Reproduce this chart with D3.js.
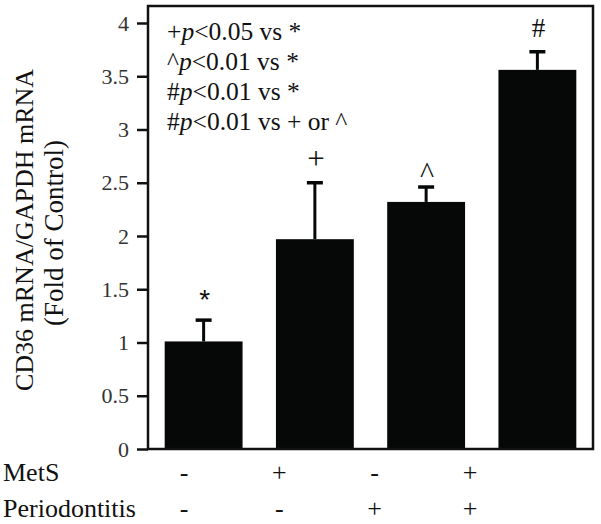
<!DOCTYPE html>
<html>
<head>
<meta charset="utf-8">
<script src="https://cdn.jsdelivr.net/npm/d3@7"></script>
</head>
<body style="margin:0;background:#fff">
<svg id="chart" width="601" height="524"></svg>
<script>
// values
const groups = ["g1", "g2", "g3", "g4"]
const means = [1.01, 1.97, 2.32, 3.56]
const errors = [0.20, 0.53, 0.14, 0.17]
const marks = ["*", "+", "^", "#"]
const metS = ["-", "+", "-", "+"]
const perio = ["-", "-", "+", "+"]
const yTicks = [0, 0.5, 1, 1.5, 2, 2.5, 3, 3.5, 4]
const legendLines = [
  ["+", "<0.05 vs *"],
  ["^", "<0.01 vs *"],
  ["#", "<0.01 vs *"],
  ["#", "<0.01 vs + or ^"]
]

const SERIF = "Liberation Serif"
const SANS = "Liberation Sans"

const svg = d3.select("#chart")
const plotL = 148, plotR = 593, plotT = 6, plotB = 449

const x = d3.scaleBand().domain(groups).range([plotL, plotR])
  .paddingInner(0.3).paddingOuter(0.15)
const y = d3.scaleLinear().domain([0, 4]).range([plotB, 23])
// the +/- rows sit a bit left of the bars in the original
const xRow = d3.scalePoint().domain(groups).range([184, 470])

function label(sel, size, family) {
  return sel.attr("font-family", family || SERIF)
    .style("font-family", family || SERIF)
    .attr("font-size", size)
    .attr("fill", "#111")
}

// bars
svg.selectAll(".bar")
  .data(groups)
  .join("rect")
  .attr("class", "bar")
  .attr("x", d => x(d))
  .attr("width", x.bandwidth())
  .attr("y", (d, i) => y(means[i]))
  .attr("height", (d, i) => plotB - y(means[i]))
  .attr("fill", "#060808")

// error bars (upper only)
const capW = 8
const eb = svg.selectAll(".err").data(groups).join("g").attr("class", "err")
eb.append("line")
  .attr("x1", d => x(d) + x.bandwidth() / 2)
  .attr("x2", d => x(d) + x.bandwidth() / 2)
  .attr("y1", (d, i) => y(means[i]))
  .attr("y2", (d, i) => y(means[i] + errors[i]))
  .attr("stroke", "#060808").attr("stroke-width", 3)
eb.append("line")
  .attr("x1", d => x(d) + x.bandwidth() / 2 - capW)
  .attr("x2", d => x(d) + x.bandwidth() / 2 + capW)
  .attr("y1", (d, i) => y(means[i] + errors[i]))
  .attr("y2", (d, i) => y(means[i] + errors[i]))
  .attr("stroke", "#060808").attr("stroke-width", 3.5)

// significance marks above bars
const mk = svg.selectAll(".mark")
  .data(groups)
  .join("text")
  .attr("class", "mark")
  .attr("x", d => x(d) + x.bandwidth() / 2 + 1)
  .attr("y", (d, i) => y(means[i] + errors[i]) - 24)
  .attr("text-anchor", "middle")
  .attr("dominant-baseline", "central")
  .attr("dy", (d, i) => i === 2 ? "0.3em" : (i === 0 ? "0.12em" : 0))
  .text((d, i) => marks[i])
mk.each(function (d, i) {
  label(d3.select(this), [28, 31, 30, 27][i], i === 0 ? SANS : SERIF)
})

// frame
svg.append("rect")
  .attr("x", plotL).attr("y", plotT)
  .attr("width", plotR - plotL).attr("height", plotB - plotT)
  .attr("fill", "none").attr("stroke", "#111").attr("stroke-width", 2.5)

// y axis
const yAxis = svg.append("g")
  .attr("transform", `translate(${plotL},0)`)
  .call(d3.axisLeft(y).tickValues(yTicks).tickSize(11).tickPadding(8).tickFormat(d3.format("")))
yAxis.attr("font-family", SERIF)
yAxis.select(".domain").remove()
yAxis.selectAll(".tick line").attr("stroke", "#111").attr("stroke-width", 2.5)
label(yAxis.selectAll(".tick text"), 22).attr("fill", "#333")

// y title
const yt = svg.append("g").attr("transform", "translate(0,230) rotate(-90)")
label(yt.append("text"), 26).attr("x", 0).attr("y", 33).attr("text-anchor", "middle")
  .text("CD36 mRNA/GAPDH mRNA")
label(yt.append("text"), 27).attr("x", -3).attr("y", 63).attr("text-anchor", "middle")
  .text("(Fold of Control)")

// legend
const lg = label(svg.selectAll(".legend")
  .data(legendLines)
  .join("text")
  .attr("class", "legend")
  .attr("x", 167)
  .attr("y", (d, i) => 40 + i * 30), 25.5)
lg.append("tspan").text(d => d[0])
lg.append("tspan").attr("font-style", "italic").text("p")
lg.append("tspan").text(d => d[1])

// row labels
const rows = [["MetS", metS, 481], ["Periodontitis", perio, 517]]
rows.forEach((r, k) => {
  label(svg.append("text"), 26).attr("x", 3).attr("y", r[2]).text(r[0])
  label(svg.selectAll(".row" + k)
    .data(groups)
    .join("text")
    .attr("class", "row" + k)
    .attr("x", d => xRow(d))
    .attr("y", r[2])
    .attr("text-anchor", "middle"), 26)
    .text((d, i) => r[1][i])
})
</script>
</body>
</html>
